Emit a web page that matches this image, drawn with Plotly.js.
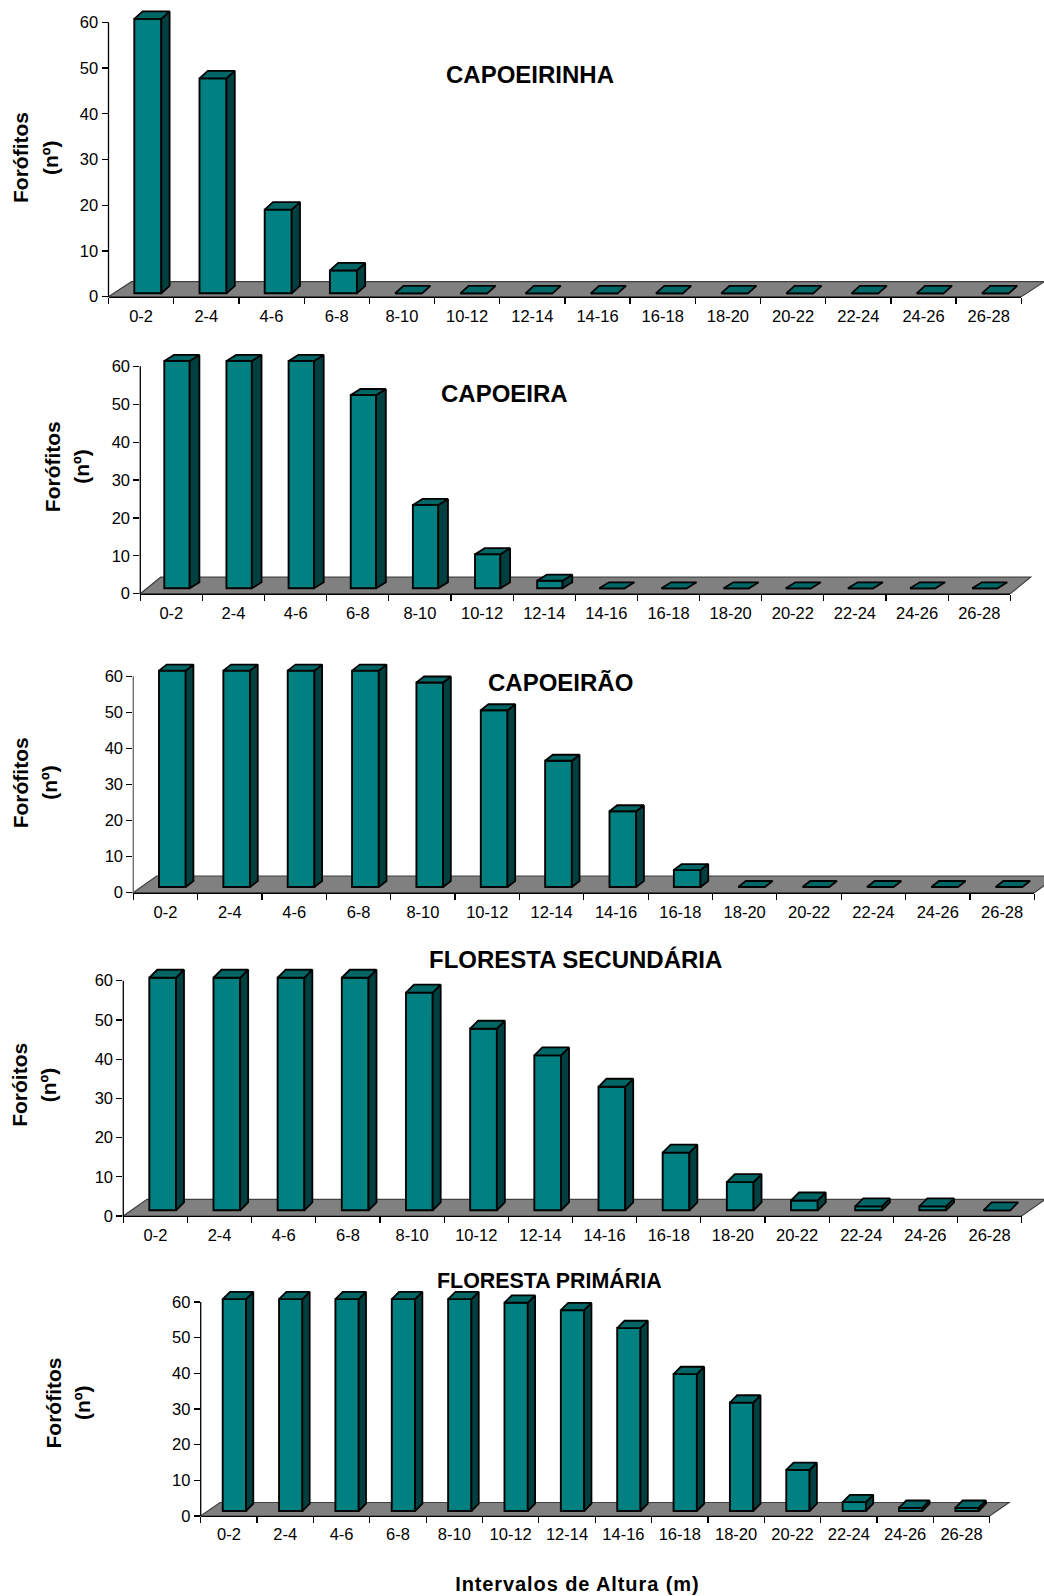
<!DOCTYPE html>
<html>
<head>
<meta charset="utf-8">
<script src="https://cdn.plot.ly/plotly-3.0.1.min.js"></script>
<style>html,body{margin:0;padding:0;background:#fff}</style>
</head>
<body>
<div id="chart" style="width:1044px;height:1596px"></div>
<script>
// Height classes shared by all five forest stands
const heightClasses = ['0-2','2-4','4-6','6-8','8-10','10-12','12-14','14-16','16-18','18-20','20-22','22-24','24-26','26-28'];

// Number of phorophytes per height class
const capoeirinha = [60,47,18.3,5,0,0,0,0,0,0,0,0,0,0];
const capoeira = [60,60,60,51,22,9,2,0,0,0,0,0,0,0];
const capoeirao = [60,60,60,60,56.7,49,35,21,4.7,0,0,0,0,0];
const florestaSecundaria = [59.3,59.3,59.3,59.3,55.5,46.3,39.5,31.5,14.7,7.2,2.5,1,1,0];
const florestaPrimaria = [59.4,59.4,59.4,59.4,59.4,58.4,56.3,51.3,38.4,30.4,11.5,2.5,0.9,0.9];

const W = 1044, H = 1596;
const FONT = 'Liberation Sans, Arial, sans-serif';
const HEADROOM = 14; // pixels kept above the 60 tick for the box tops

// Pixel frame of each panel and the oblique offsets of its floor and bar boxes
const panels = [
  {values:capoeirinha, title:'CAPOEIRINHA', tx:530, ty:74.5, tsize:24, ylabel:'Forófitos', lx:20, lx2:50, ly:158, labelGap:4.5,
   x0:108.5, x1:1021.3, y60:22.3, y0:296.7, fdx:23, fdy:15, barLeft:134.3, barW:27, barBottom:293.3, sdx:8.3, sdy:7.5, axis:'#000'},
  {values:capoeira, title:'CAPOEIRA', tx:504, ty:393.8, tsize:24, ylabel:'Forófitos', lx:52.5, lx2:82, ly:466.7, labelGap:4.5,
   x0:140.3, x1:1010.3, y60:366.3, y0:593.7, fdx:20.4, fdy:16.5, barLeft:164.3, barW:25.4, barBottom:588.3, sdx:9.7, sdy:6, axis:'#000'},
  {values:capoeirao, title:'CAPOEIRÃO', tx:560, ty:682, tsize:24, ylabel:'Forófitos', lx:20.5, lx2:50, ly:782.8, labelGap:4.5,
   x0:133.3, x1:1034.3, y60:676.3, y0:892.7, fdx:23.3, fdy:16.7, barLeft:159, barW:26.7, barBottom:887, sdx:7.7, sdy:6, axis:'#666'},
  {values:florestaSecundaria, title:'FLORESTA SECUNDÁRIA', tx:575, ty:959.5, tsize:24, ylabel:'Foróitos', lx:18.8, lx2:48.3, ly:1085, labelGap:3.5,
   x0:123.3, x1:1021.7, y60:980.7, y0:1216, fdx:23.7, fdy:16.7, barLeft:149.3, barW:26.7, barBottom:1210.3, sdx:8, sdy:8, axis:'#000'},
  {values:florestaPrimaria, title:'FLORESTA PRIMÁRIA', tx:549.5, ty:1280, tsize:21.4, ylabel:'Forófitos', lx:52.5, lx2:82, ly:1403, labelGap:2.5,
   x0:200.7, x1:989.7, y60:1302, y0:1516, fdx:19.3, fdy:13.5, barLeft:222.7, barW:23.3, barBottom:1511, sdx:7.3, sdy:7.3, axis:'#000'}
];

const traces = [], shapes = [], annotations = [];
const layout = {
  width:W, height:H, autosize:false, showlegend:false, bargap:0,
  margin:{l:0,r:0,t:0,b:0,pad:0},
  paper_bgcolor:'#fff', plot_bgcolor:'rgba(0,0,0,0)',
  font:{family:FONT, size:16.5, color:'#000'}
};

const categoryCentres = heightClasses.map((_, i) => i + 0.5);
const boundaries = heightClasses.map((_, i) => i).concat(heightClasses.length);
const yTicks = [0,10,20,30,40,50,60];
const px = v => (v / W).toFixed(5), py = v => (1 - v / H).toFixed(5);

panels.forEach((p, n) => {
  const k = n + 1, sx = k === 1 ? '' : k;
  const xUnit = (p.x1 - p.x0) / heightClasses.length;
  const yUnit = (p.y0 - p.y60) / 60;

  layout['xaxis' + sx] = {
    domain:[p.x0 / W, p.x1 / W], range:[0, heightClasses.length], anchor:'y' + sx,
    fixedrange:true, showgrid:false, zeroline:false, showline:true, linecolor:'#000', linewidth:1.3,
    tickmode:'array', tickvals:categoryCentres, ticktext:heightClasses,
    ticks:'outside', ticklen:p.labelGap, tickwidth:1, tickcolor:'rgba(0,0,0,0)',
    minor:{tickmode:'array', tickvals:boundaries, ticks:'outside', ticklen:6, tickwidth:1.2, tickcolor:'#000', showgrid:false},
    tickfont:{family:FONT, size:16.5, color:'#000'}
  };
  // The value axis runs a little past 60 so box tops stay inside the plot area;
  // its visible spine is the shape below, which stops at the 60 tick.
  layout['yaxis' + sx] = {
    domain:[1 - p.y0 / H, 1 - (p.y60 - HEADROOM) / H], range:[0, 60 + HEADROOM / yUnit], anchor:'x' + sx,
    fixedrange:true, showgrid:false, zeroline:false, showline:false,
    tickmode:'array', tickvals:yTicks,
    ticks:'outside', ticklen:6, tickwidth:1.2, tickcolor:'#000',
    tickfont:{family:FONT, size:16.5, color:'#000'}
  };

  // Value axis spine
  shapes.push({
    type:'line', xref:'paper', yref:'paper', layer:'above',
    x0:p.x0 / W, x1:p.x0 / W, y0:1 - p.y0 / H, y1:1 - p.y60 / H,
    line:{color:p.axis, width:1.3}
  });

  // Floor parallelogram, laid under every trace
  shapes.push({
    type:'path', xref:'paper', yref:'paper', layer:'below',
    path:`M ${px(p.x0)} ${py(p.y0)} L ${px(p.x1)} ${py(p.y0)} L ${px(p.x1 + p.fdx)} ${py(p.y0 - p.fdy)} L ${px(p.x0 + p.fdx)} ${py(p.y0 - p.fdy)} Z`,
    fillcolor:'#808080', line:{color:'#404040', width:1.2}
  });

  // Box faces, expressed in axis units so they follow the value scale
  const barW = p.barW / xUnit;
  const left = i => i + (p.barLeft - p.x0) / xUnit;
  const base = (p.y0 - p.barBottom) / yUnit;
  const dx = p.sdx / xUnit, dy = p.sdy / yUnit;

  traces.push({
    type:'bar', xaxis:'x' + sx, yaxis:'y' + sx,
    x:p.values.map((_, i) => left(i) + barW / 2),
    y:p.values,
    base:p.values.map(() => base),
    width:barW,
    marker:{color:'#008080', line:{color:'#000', width:1.9}},
    hoverinfo:'y'
  });

  const sideX = [], sideY = [], topX = [], topY = [];
  p.values.forEach((v, i) => {
    const l = left(i), r = l + barW, t = base + v;
    if (v > 0) {
      sideX.push(r, r + dx, r + dx, r, r, null);
      sideY.push(base, base + dy, t + dy, t, base, null);
    }
    topX.push(l, r, r + dx, l + dx, l, null);
    topY.push(t, t, t + dy, t + dy, t, null);
  });
  [[sideX, sideY, '#004040'], [topX, topY, '#006666']].forEach(([xs, ys, colour]) => {
    traces.push({
      type:'scatter', mode:'lines', xaxis:'x' + sx, yaxis:'y' + sx,
      x:xs, y:ys, fill:'toself', fillcolor:colour,
      line:{color:'#000', width:1.8, simplify:false}, hoverinfo:'skip'
    });
  });

  annotations.push({
    xref:'paper', yref:'paper', x:p.tx / W, y:1 - p.ty / H, text:'<b>' + p.title + '</b>',
    showarrow:false, xanchor:'center', yanchor:'middle', font:{family:FONT, size:p.tsize, color:'#000'}
  });
  [[p.ylabel, p.lx], ['(nº)', p.lx2]].forEach(([text, x]) => annotations.push({
    xref:'paper', yref:'paper', x:x / W, y:1 - p.ly / H, text:'<b>' + text + '</b>', textangle:-90,
    showarrow:false, xanchor:'center', yanchor:'middle', font:{family:FONT, size:21, color:'#000'}
  }));
});

const XTITLE = 'Intervalos de Altura (m)';
annotations.push({
  xref:'paper', yref:'paper', x:577 / W, y:1 - 1583.5 / H, text:'<b>' + XTITLE + '</b>',
  showarrow:false, xanchor:'center', yanchor:'middle', font:{family:FONT, size:20, color:'#000'}
});

layout.shapes = shapes;
layout.annotations = annotations;

Plotly.newPlot('chart', traces, layout, {displayModeBar:false, staticPlot:true}).then(() => {
  // The horizontal axis caption is set with open tracking
  document.querySelectorAll('.annotation-text').forEach(t => {
    if (t.textContent === XTITLE) t.style.letterSpacing = '0.9px';
  });
});
</script>
</body>
</html>
